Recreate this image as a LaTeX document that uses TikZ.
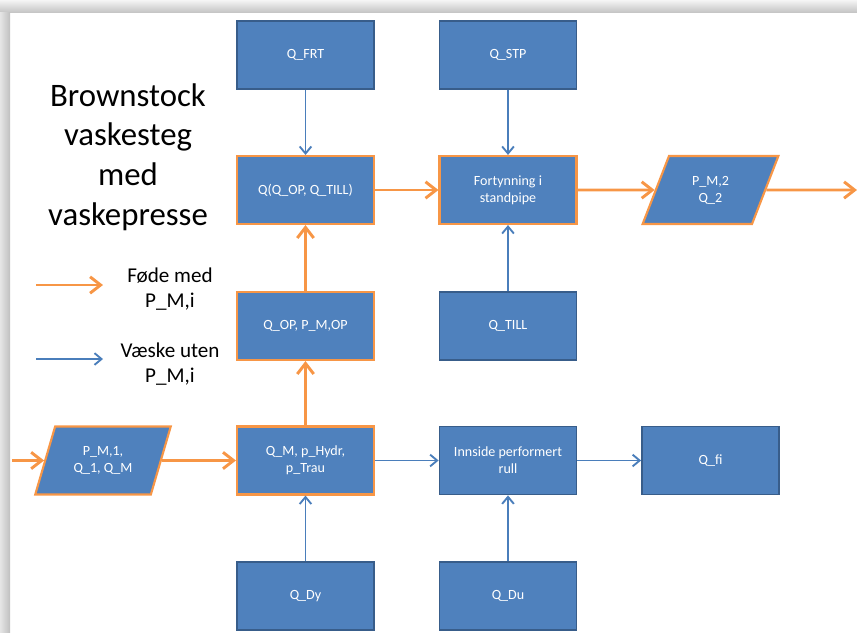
\documentclass[tikz,border=0pt]{standalone}
\usepackage{fontspec}
\setmainfont{Carlito}
\usetikzlibrary{arrows.meta,shapes.geometric}
\definecolor{boxblue}{HTML}{4F81BD}
\definecolor{boxline}{HTML}{385D8A}
\definecolor{feed}{HTML}{F79646}
\definecolor{liquid}{HTML}{4A7EBB}

\begin{document}
\begin{tikzpicture}[x=0.03cm,y=-0.03cm,
	blokk/.style={rectangle,fill=boxblue,draw=boxline,line width=1.5pt,text=white,
		font=\fontsize{12}{14.5}\selectfont,align=center,inner sep=2pt,
		minimum width=4.11cm,minimum height=2.04cm},
	fodeblokk/.style={blokk,draw=feed,line width=1.8pt},
	skjema/.style={trapezium,trapezium left angle=68,trapezium right angle=112,
		trapezium stretches=true,fill=boxblue,draw=feed,line width=1.8pt,text=white,
		font=\fontsize{12}{14.5}\selectfont,align=center,inner sep=2pt,
		minimum width=4.08cm,minimum height=2.04cm},
	fode/.style={draw=feed,line width=2.5pt,-{Straight Barb[length=9pt,width=14pt]}},
	vaske/.style={draw=liquid,line width=1.6pt,-{Straight Barb[length=6pt,width=10pt]}}]
	\useasboundingbox (0,0) rectangle (857,632);
	% skygge rundt lysbildet
	\shade[top color=gray!8,bottom color=gray!45] (0,0) rectangle (857,12);
	\shade[left color=gray!20,right color=gray!50] (0,12) rectangle (10,632);
	% tittel og forklaring
	\node[font=\fontsize{28}{34}\selectfont,align=center] (tittel) at (128,157)
		{Brownstock\\vaskesteg\\med\\vaskepresse};
	\node[font=\fontsize{18}{22}\selectfont,align=center] (fodetekst) at (170,289) {Føde med\\P\_M,i};
	\node[font=\fontsize{18}{22}\selectfont,align=center] (vasketekst) at (170,364) {Væske uten\\P\_M,i};
	\coordinate (fodeA) at (36,285);
	\coordinate (fodeB) at (103,285);
	\coordinate (vaskeA) at (36,359);
	\coordinate (vaskeB) at (103,359);
	\draw[fode] (fodeA) -- (fodeB);
	\draw[vaske] (vaskeA) -- (vaskeB);
	% blokker
	\node[blokk] (frt) at (305.5,55) {Q\_FRT};
	\node[blokk] (stp) at (508,55) {Q\_STP};
	\node[fodeblokk] (qq) at (305.5,190) {Q(Q\_OP, Q\_TILL)};
	\node[fodeblokk] (fort) at (508,190) {Fortynning i\\standpipe};
	\node[skjema] (pm2) at (710.5,190) {P\_M,2\\Q\_2};
	\node[fodeblokk] (qop) at (305.5,326) {Q\_OP, P\_M,OP};
	\node[blokk] (till) at (508,326) {Q\_TILL};
	\node[skjema] (pm1) at (103,460.5) {P\_M,1,\\Q\_1, Q\_M};
	\node[fodeblokk] (qm) at (305.5,460.5) {Q\_M, p\_Hydr,\\p\_Trau};
	\node[blokk] (rull) at (508,460.5) {Innside performert\\rull};
	\node[blokk] (qfi) at (710.5,460.5) {Q\_fi};
	\node[blokk] (dy) at (305.5,596) {Q\_Dy};
	\node[blokk] (du) at (508,596) {Q\_Du};
	% piler
	\coordinate (inn) at (12,460.5);
	\coordinate (ut) at (857,190);
	\foreach \a/\b in {inn/pm1,pm1/qm,qm/qop,qop/qq,qq/fort,fort/pm2,pm2/ut}
		\draw[fode] (\a) -- (\b);
	\foreach \a/\b in {frt/qq,stp/fort,till/fort,dy/qm,du/rull,qm/rull,rull/qfi}
		\draw[vaske] (\a) -- (\b);
\end{tikzpicture}
\end{document}
